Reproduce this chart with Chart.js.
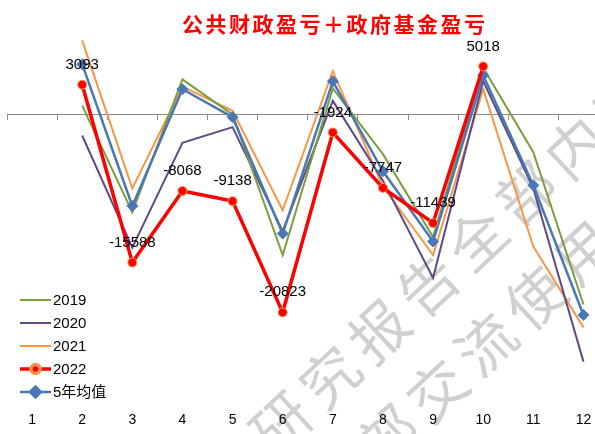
<!DOCTYPE html>
<html>
<head>
<meta charset="utf-8">
<script src="https://cdn.jsdelivr.net/npm/chart.js@4.4.0/dist/chart.umd.min.js"></script>
<style>
  html, body { margin: 0; padding: 0; overflow: hidden; background: #fff; }
  #wrap { position: relative; width: 595px; height: 434px; overflow: hidden; }
  #chart { position: absolute; left: 0; top: 0; }
  #title {
    position: absolute; left: 182px; top: 11px;
    font: bold 21px "Noto Sans CJK SC", sans-serif; line-height: 24px;
    letter-spacing: 2.5px; color: #ff0000; white-space: nowrap;
  }
</style>
</head>
<body>
<div id="wrap">
  <canvas id="chart" width="615" height="434"></canvas>
  <div id="title">公共财政盈亏＋政府基金盈亏</div>
</div>
<script>
const months = ['1', '2', '3', '4', '5', '6', '7', '8', '9', '10', '11', '12'];
const values2019 = [null, 900, -10300, 3660, -50, -14800, 2700, -4200, -12900, 4880, -4000, -20000];
const values2020 = [null, -2240, -14020, -3000, -1360, -12300, 1400, -7000, -17200, 3480, -7800, -26000];
const values2021 = [null, 7750, -7800, 2900, 360, -10100, 4520, -7600, -14800, 2620, -13900, -22400];
const values2022 = [null, 3093, -15588, -8068, -9138, -20823, -1924, -7747, -11439, 5018, null, null];
const valuesAvg = [null, 5250, -9650, 2620, -320, -12550, 3450, -6000, -13380, 4080, -7480, -21100];
const watermarkLines = ['研究报告全部内容', '仅供内部交流使用'];

const watermarkPlugin = {
    id: 'watermark',
    beforeDraw: (chart) => {
        const ctx = chart.ctx;
        const starts = [[281, 423], [241, 574]];
        ctx.save();
        ctx.fillStyle = '#d0d0d0';
        ctx.font = '58px "Noto Sans CJK SC"';
        ctx.textAlign = 'center';
        ctx.textBaseline = 'middle';
        watermarkLines.forEach((line, n) => {
            [...line].forEach((ch, i) => {
                ctx.save();
                ctx.translate(starts[n][0] + i * 49, starts[n][1] - i * 46);
                ctx.rotate(-43 * Math.PI / 180);
                ctx.fillText(ch, 0, 0);
                ctx.restore();
            });
        });
        ctx.restore();
    }
};

const pointLabelPlugin = {
    id: 'pointLabels',
    afterDatasetsDraw: (chart) => {
        const ctx = chart.ctx;
        ctx.save();
        ctx.font = '15px "Liberation Sans"';
        ctx.fillStyle = '#000';
        ctx.textAlign = 'center';
        ctx.textBaseline = 'middle';
        chart.data.datasets.forEach((ds, i) => {
            if (!ds.showLabels) return;
            chart.getDatasetMeta(i).data.forEach((pt, j) => {
                if (ds.data[j] === null) return;
                ctx.fillText(String(ds.data[j]), pt.x, pt.y - 20);
            });
        });
        ctx.restore();
    }
};

const legendPlugin = {
    id: 'sideLegend',
    afterDraw: (chart) => {
        const ctx = chart.ctx;
        ctx.save();
        ctx.font = '15px "Liberation Sans", "Noto Sans CJK SC"';
        ctx.textBaseline = 'middle';
        chart.data.datasets.forEach((ds, i) => {
            const y = 300 + i * 23;
            ctx.strokeStyle = ds.borderColor;
            ctx.lineWidth = ds.borderWidth;
            ctx.beginPath();
            ctx.moveTo(20, y);
            ctx.lineTo(51, y);
            ctx.stroke();
            if (ds.pointRadius > 0) {
                ctx.fillStyle = ds.pointBackgroundColor;
                ctx.strokeStyle = ds.pointBorderColor;
                Chart.helpers.drawPoint(ctx, {
                    pointStyle: ds.pointStyle, rotation: 0,
                    radius: ds.pointRadius, borderWidth: ds.pointBorderWidth
                }, 35.5, y);
            }
            ctx.fillStyle = '#000';
            ctx.fillText(ds.label, 53, y + 1);
        });
        ctx.restore();
    }
};

const makeLine = (label, data, color, order) => ({
    label: label,
    data: data,
    borderColor: color,
    borderWidth: 2,
    pointRadius: 0,
    tension: 0,
    order: order
});

const datasets = [
    makeLine('2019', values2019, '#7a9e3e', 2),
    makeLine('2020', values2020, '#604a85', 3),
    makeLine('2021', values2021, '#f79646', 4),
    Object.assign(makeLine('2022', values2022, '#ff0000', 0), {
        borderWidth: 3.5,
        pointRadius: 4.5,
        pointStyle: 'circle',
        pointBackgroundColor: '#ff0000',
        pointBorderColor: '#f79646',
        pointBorderWidth: 1,
        showLabels: true
    }),
    Object.assign(makeLine('5年均值', valuesAvg, '#4a78b5', 1), {
        borderWidth: 2.5,
        pointRadius: 5.5,
        pointStyle: 'rectRot',
        pointBackgroundColor: '#4a78b5',
        pointBorderColor: '#4a78b5',
        pointBorderWidth: 1
    })
];

const ctx = document.getElementById('chart').getContext('2d');
window.budgetChart = new Chart(ctx, {
    type: 'line',
    data: { labels: months, datasets: datasets },
    options: {
        responsive: false,
        animation: false,
        devicePixelRatio: 1,
        layout: { padding: { left: 7, right: 4, top: 19, bottom: 2 } },
        plugins: {
            legend: { display: false },
            tooltip: { enabled: false }
        },
        scales: {
            x: {
                type: 'category',
                offset: true,
                grid: { display: false, drawTicks: false },
                border: { display: false },
                ticks: {
                    color: '#000',
                    padding: 3,
                    maxRotation: 0,
                    font: { family: '"Liberation Sans"', size: 14 }
                }
            },
            zero: {
                type: 'category',
                axis: 'x',
                labels: months,
                offset: true,
                position: { y: 0 },
                grid: {
                    offset: true,
                    drawOnChartArea: false,
                    drawTicks: true,
                    tickLength: 5,
                    color: '#8c8c8c'
                },
                border: { display: true, color: '#8c8c8c', width: 1 },
                ticks: { display: false }
            },
            y: {
                display: false,
                min: -31000,
                max: 10000
            }
        }
    },
    plugins: [watermarkPlugin, pointLabelPlugin, legendPlugin]
});
</script>
</body>
</html>
